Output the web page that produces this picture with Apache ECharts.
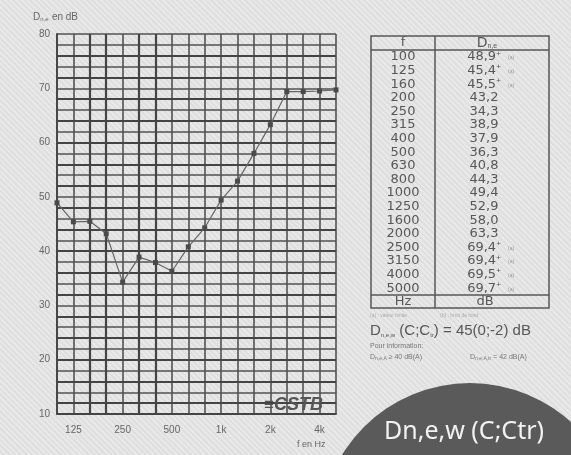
<!DOCTYPE html>
<html><head><meta charset="utf-8">
<script src="https://cdn.jsdelivr.net/npm/echarts@6/dist/echarts.min.js"></script>
<style>
html,body{margin:0;padding:0;}
body{width:571px;height:455px;overflow:hidden;
background-color:#e4e4e4;
background-image:repeating-linear-gradient(45deg,#e8e8e8 0px,#e8e8e8 2px,#dfdfdf 2px,#dfdfdf 4px);}
#c{width:571px;height:455px;}
</style></head>
<body><div id="c"></div>
<script>
// ---- data ----
const freqs = ['100','125','160','200','250','315','400','500','630','800','1000','1250','1600','2000','2500','3150','4000','5000'];
const dnE = [48.9,45.4,45.5,43.2,34.3,38.9,37.9,36.3,40.8,44.3,49.4,52.9,58.0,63.3,69.4,69.4,69.5,69.7];
const limitFlags = [1,1,1,0,0,0,0,0,0,0,0,0,0,0,1,1,1,1];
const xTickLabels = {'125':'125','250':'250','500':'500','1000':'1k','2000':'2k','4000':'4k'};
const yTickLabels = [10,20,30,40,50,60,70,80];
const boldHLines = [12,16,20,24,28,32,36,40,44,48,52,56,60,64,68,72,76];
const boldVLines = ['160','200','315','400'];

const chart = echarts.init(document.getElementById('c'), null, {renderer:'canvas'});

const G = '#575757';
const tFont = 'DejaVu Sans';
const graphics = [];

// y axis title
graphics.push({type:'text', left:33, top:11, style:{text:'{a|D}{s|n,e} {a|en dB}', rich:{a:{fontSize:10,fill:'#666',fontFamily:'Liberation Sans'}, s:{fontSize:6,fill:'#666',padding:[5,0,0,0]}}}});
// x axis title
graphics.push({type:'text', left:297, top:440, style:{text:'f en Hz', fontSize:9, fill:'#666', fontFamily:'Liberation Sans'}});
// CSTB logo
graphics.push({type:'text', left:264, top:396, z:50, style:{text:'{l|≡}{t|CSTB}', rich:{l:{fontSize:17,fill:'#555',fontWeight:'bold'}, t:{fontSize:18,fill:'#555',fontWeight:'bold',fontStyle:'italic',fontFamily:'Liberation Sans'}}}});

// table frame
const tx0=371, tx1=549, ty0=36, ty1=308, colX=435, hdrY=50, ftrY=295;
graphics.push({type:'rect', shape:{x:tx0,y:ty0,width:tx1-tx0,height:ty1-ty0}, style:{fill:'none',stroke:G,lineWidth:1.5}});
graphics.push({type:'line', shape:{x1:tx0,y1:hdrY,x2:tx1,y2:hdrY}, style:{stroke:G,lineWidth:1.5}});
graphics.push({type:'line', shape:{x1:tx0,y1:ftrY,x2:tx1,y2:ftrY}, style:{stroke:G,lineWidth:1.5}});
graphics.push({type:'line', shape:{x1:colX,y1:ty0,x2:colX,y2:ty1}, style:{stroke:G,lineWidth:1.5}});
graphics.push({type:'text', x:403, y:43, style:{text:'f', fontSize:13, fill:G, fontFamily:tFont, align:'center', verticalAlign:'middle'}});
graphics.push({type:'text', x:487, y:43, style:{text:'{a|D}{s|n,e}', rich:{a:{fontSize:14,fill:G,fontFamily:tFont}, s:{fontSize:7,fill:G,padding:[7,0,0,0]}}, align:'center', verticalAlign:'middle'}});
freqs.forEach((f,i)=>{
  const y = 57 + i*13.6;
  graphics.push({type:'text', x:403, y:y, style:{text:f, fontSize:13, fill:G, fontFamily:tFont, align:'center', verticalAlign:'middle'}});
  const vs = dnE[i].toFixed(1).replace('.',',');
  const txt = limitFlags[i] ? '{v|'+vs+'}{p|+}' : '{v|'+vs+'}';
  graphics.push({type:'text', x:484, y:y, style:{text:txt, rich:{v:{fontSize:13,fill:G,fontFamily:tFont}, p:{fontSize:8,fill:G,padding:[0,0,7,0]}}, align:'center', verticalAlign:'middle'}});
  if (limitFlags[i]) graphics.push({type:'text', x:508, y:y+1, style:{text:'(a)', fontSize:5, fill:'#999', align:'left', verticalAlign:'middle'}});
});
graphics.push({type:'text', x:403, y:302, style:{text:'Hz', fontSize:13, fill:G, fontFamily:tFont, align:'center', verticalAlign:'middle'}});
graphics.push({type:'text', x:485, y:302, style:{text:'dB', fontSize:13, fill:G, fontFamily:tFont, align:'center', verticalAlign:'middle'}});
graphics.push({type:'text', x:370, y:316, style:{text:'(a) : valeur limite', fontSize:5, fill:'#aaa', verticalAlign:'middle'}});
graphics.push({type:'text', x:440, y:316, style:{text:'(b) : bruit de fond', fontSize:5, fill:'#aaa', verticalAlign:'middle'}});
graphics.push({type:'text', x:370, y:331, style:{text:'D{s|n,e,w} (C;C{s|tr}) = 45(0;-2) dB', fontSize:15, fill:G, fontFamily:'Liberation Sans', verticalAlign:'middle', rich:{s:{fontSize:6,fill:G,padding:[8,0,0,0],fontFamily:'Liberation Sans'}}}});
graphics.push({type:'text', x:370, y:346, style:{text:'Pour information:', fontSize:7, fill:'#777', fontFamily:'Liberation Sans', verticalAlign:'middle'}});
graphics.push({type:'text', x:370, y:357, style:{text:'D{s|n,e,A} ≥ 40 dB(A)', fontSize:7, fill:'#777', fontFamily:'Liberation Sans', verticalAlign:'middle', rich:{s:{fontSize:5,fill:'#777',padding:[3,0,0,0]}}}});
graphics.push({type:'text', x:470, y:357, style:{text:'D{s|n,e,A,tr} = 42 dB(A)', fontSize:7, fill:'#777', fontFamily:'Liberation Sans', verticalAlign:'middle', rich:{s:{fontSize:5,fill:'#777',padding:[3,0,0,0]}}}});
// badge
graphics.push({type:'circle', shape:{cx:470, cy:533, r:150}, style:{fill:'#5a5a5a'}, z:60});
graphics.push({type:'text', x:464, y:432, z:61, style:{text:'Dn,e,w (C;Ctr)', fontSize:25, fill:'#f2f2f2', fontFamily:'Noto Sans', align:'center', verticalAlign:'middle'}});

chart.setOption({
  animation:false,
  backgroundColor:'transparent',
  grid:{left:57, top:34, width:279, height:380, containLabel:false},
  xAxis:{type:'category', data:freqs, boundaryGap:false,
    axisLine:{show:true, lineStyle:{color:'#444', width:1.8}},
    axisTick:{show:false},
    axisLabel:{interval:0, margin:11, fontSize:10, color:'#666', fontFamily:'Liberation Sans', formatter:v=>xTickLabels[v]||''},
    splitLine:{show:true, interval:0, lineStyle:{color:'#525252', width:1.6}}},
  yAxis:{type:'value', min:10, max:80, interval:2,
    axisLine:{show:true, lineStyle:{color:'#444', width:1.8}},
    axisTick:{show:false},
    axisLabel:{margin:7, fontSize:10, color:'#666', fontFamily:'Liberation Sans', formatter:v=>yTickLabels.indexOf(v)>=0?String(v):''},
    splitLine:{show:true, lineStyle:{color:'#525252', width:1.6}}},
  graphic:graphics,
  series:[{type:'line', data:dnE, symbol:'rect', symbolSize:5,
    itemStyle:{color:'#4a4a4a'}, lineStyle:{color:'#666', width:1.2}, z:5,
    markLine:{silent:true, symbol:'none', label:{show:false}, animation:false,
      lineStyle:{color:'#444', width:2.2, type:'solid'},
      data:[...boldHLines.map(v=>({yAxis:v})), ...boldVLines.map(v=>({xAxis:v}))]}}]
});
</script></body></html>
